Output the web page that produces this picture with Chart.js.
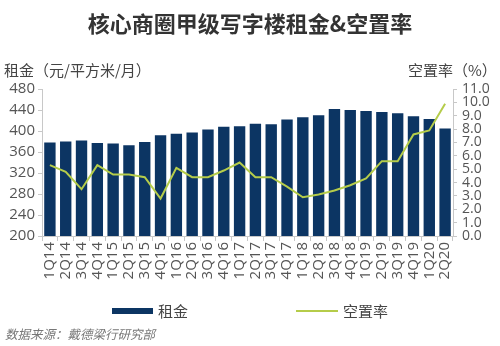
<!DOCTYPE html>
<html>
<head>
<meta charset="utf-8">
<script src="https://cdn.jsdelivr.net/npm/chart.js@4"></script>
<style>
  body { margin: 0; background: #fff; font-family: "Noto Sans CJK SC", "Open Sans", sans-serif; }
  #wrap { position: relative; width: 500px; height: 346px; overflow: hidden; }
  #myChart { position: absolute; left: 0; top: 0; }
  .txt { position: absolute; white-space: nowrap; color: #444; }
  #title { left: 0; width: 500px; top: 6px; text-align: center; font-size: 22px; font-weight: bold; color: #333; }
  #ytitle { left: 4px; top: 59px; font-size: 15px; }
  #y1title { left: 408px; top: 59px; font-size: 15px; }
  #source { left: 5px; top: 324px; font-size: 12.5px; font-style: italic; color: #777; }
  .swatch { position: absolute; }
</style>
</head>
<body>
<div id="wrap">
  <canvas id="myChart" width="500" height="346"></canvas>
  <div class="txt" id="title">核心商圈甲级写字楼租金&amp;空置率</div>
  <div class="txt" id="ytitle">租金（元/平方米/月）</div>
  <div class="txt" id="y1title">空置率（%）</div>
  <div class="swatch" style="left:112px; top:308px; width:41px; height:6px; background:#0c3563;"></div>
  <div class="txt" style="left:158px; top:300px; font-size:15px;">租金</div>
  <div class="swatch" style="left:296px; top:310px; width:42px; height:2px; background:#b5cc4a;"></div>
  <div class="txt" style="left:343px; top:300px; font-size:15px;">空置率</div>
  <div class="txt" id="source">数据来源：戴德梁行研究部</div>
</div>
<script>
// 季度
const quarters = ['1Q14', '2Q14', '3Q14', '4Q14', '1Q15', '2Q15', '3Q15', '4Q15', '1Q16', '2Q16', '3Q16', '4Q16', '1Q17',
  '2Q17', '3Q17', '4Q17', '1Q18', '2Q18', '3Q18', '4Q18', '1Q19', '2Q19', '3Q19', '4Q19', '1Q20', '2Q20'];

// 租金 (元/平方米/月)
const rent = [378, 380, 382, 377, 376, 373, 379, 392, 395, 397, 403, 408, 409,
  414, 413, 422, 426, 430, 442, 440, 438, 436, 434, 428, 423, 405];

// 空置率 (%)
const vacancy = [5.3, 4.8, 3.5, 5.3, 4.6, 4.6, 4.4, 2.8, 5.1, 4.4, 4.4, 4.9, 5.5,
  4.4, 4.4, 3.7, 2.9, 3.1, 3.4, 3.8, 4.3, 5.6, 5.6, 7.6, 7.9, 9.9];

const tickColor = '#555';
const lineColor = '#c8c8c8';

new Chart(document.getElementById('myChart'), {
  data: {
    labels: quarters,
    datasets: [
      {
        type: 'line',
        label: '空置率',
        data: vacancy,
        yAxisID: 'y1',
        borderColor: '#b5cc4a',
        borderWidth: 2,
        pointRadius: 0,
        tension: 0,
        order: 0
      },
      {
        type: 'bar',
        label: '租金',
        data: rent,
        yAxisID: 'y',
        backgroundColor: '#0c3563',
        categoryPercentage: 1,
        barPercentage: 0.72,
        order: 1
      }
    ]
  },
  options: {
    responsive: false,
    animation: false,
    layout: { padding: { top: 89, bottom: 0, left: 0, right: 0 } },
    scales: {
      x: {
        afterFit: s => { s.height = 110; },
        border: { color: lineColor },
        grid: { drawOnChartArea: false, color: lineColor, tickLength: 5, offset: true },
        ticks: {
          color: tickColor,
          font: { family: 'Open Sans', size: 15 },
          minRotation: 90,
          maxRotation: 90,
          autoSkip: false,
          padding: 1
        }
      },
      y: {
        position: 'left',
        min: 200,
        max: 480,
        afterFit: s => { s.width = 42; },
        border: { color: lineColor },
        grid: { drawOnChartArea: false, color: lineColor, tickLength: 4 },
        ticks: {
          stepSize: 40,
          color: tickColor,
          font: { family: 'Open Sans', size: 15 },
          padding: 3
        }
      },
      y1: {
        position: 'right',
        min: 0,
        max: 11,
        afterFit: s => { s.width = 47; },
        border: { color: lineColor },
        grid: { drawOnChartArea: false, color: lineColor, tickLength: 4 },
        ticks: {
          stepSize: 1,
          autoSkip: false,
          color: tickColor,
          font: { family: 'Open Sans', size: 14 },
          padding: 5,
          callback: v => v.toFixed(1)
        }
      }
    },
    plugins: {
      legend: { display: false },
      tooltip: { enabled: false }
    }
  }
});
</script>
</body>
</html>
